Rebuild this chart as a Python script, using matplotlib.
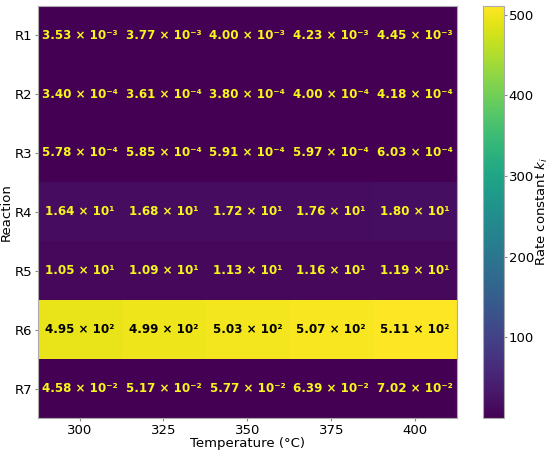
import numpy as np
import matplotlib.pyplot as plt

# Rate constants per reaction (rows) and temperature (columns)
reactions = ['R1', 'R2', 'R3', 'R4', 'R5', 'R6', 'R7']
temperatures = [300, 325, 350, 375, 400]

r1 = [3.53e-3, 3.77e-3, 4.00e-3, 4.23e-3, 4.45e-3]
r2 = [3.40e-4, 3.61e-4, 3.80e-4, 4.00e-4, 4.18e-4]
r3 = [5.78e-4, 5.85e-4, 5.91e-4, 5.97e-4, 6.03e-4]
r4 = [1.64e1, 1.68e1, 1.72e1, 1.76e1, 1.80e1]
r5 = [1.05e1, 1.09e1, 1.13e1, 1.16e1, 1.19e1]
r6 = [4.95e2, 4.99e2, 5.03e2, 5.07e2, 5.11e2]
r7 = [4.58e-2, 5.17e-2, 5.77e-2, 6.39e-2, 7.02e-2]

data = np.array([r1, r2, r3, r4, r5, r6, r7])

sup = str.maketrans('-0123456789', '⁻⁰¹²³⁴⁵⁶⁷⁸⁹')


def sci_label(v):
    exp = int(np.floor(np.log10(v)))
    mant = v / 10 ** exp
    return '%.2f × 10%s' % (mant, str(exp).translate(sup))


fig = plt.figure(figsize=(5.5, 4.51), dpi=100)
ax = fig.add_axes([0.0685, 0.0732, 0.7625, 0.914])
cax = fig.add_axes([0.879, 0.0732, 0.0382, 0.914])

im = ax.imshow(data, cmap='viridis', aspect='auto', vmin=data.min(), vmax=data.max())

for i in range(data.shape[0]):
    for j in range(data.shape[1]):
        color = 'black' if data[i, j] > 250 else '#f7f71a'
        ax.text(j, i, sci_label(data[i, j]), ha='center', va='center',
                color=color, fontsize=8.6, fontweight='bold')

ax.set_xticks(range(len(temperatures)))
ax.set_xticklabels(temperatures)
ax.set_yticks(range(len(reactions)))
ax.set_yticklabels(reactions)
ax.set_xlabel('Temperature (°C)', fontsize=9.5, labelpad=0)
ax.set_ylabel('Reaction', fontsize=9.5, labelpad=1)
ax.tick_params(labelsize=9.5, color='#888888', length=2.5, pad=1.5)
for s in ax.spines.values():
    s.set_color('#aaaaaa')

cb = fig.colorbar(im, cax=cax)
cb.set_ticks([100, 200, 300, 400, 500])
cb.set_label('Rate constant $k_i$', fontsize=9.5, labelpad=0)
cb.ax.tick_params(labelsize=9.5, color='#888888', length=2, pad=1)
cb.outline.set_edgecolor('#aaaaaa')

fig.savefig('out.png', dpi=100)
